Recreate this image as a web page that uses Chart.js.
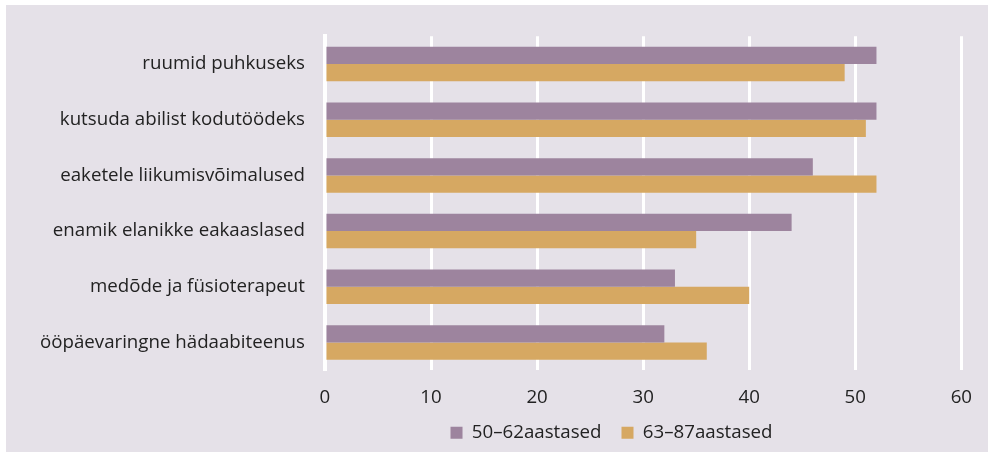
<!DOCTYPE html>
<html>
<head>
<meta charset="utf-8">
<script src="https://cdn.jsdelivr.net/npm/chart.js@4"></script>
<style>
  html, body { margin: 0; padding: 0; background: #fff; }
  #wrap { position: absolute; left: 6px; top: 5px; width: 982px; height: 447px; background: #e5e1e8; }
</style>
</head>
<body>
<div id="wrap"><canvas id="bar-chart"></canvas></div>
<script>
const categories = ['ruumid puhkuseks', 'kutsuda abilist kodutöödeks', 'eaketele liikumisvõimalused',
  'enamik elanikke eakaaslased', 'medõde ja füsioterapeut', 'ööpäevaringne hädaabiteenus'];
const age50to62 = [52, 52, 46, 44, 33, 32];
const age63to87 = [49, 51, 52, 35, 40, 36];
const seriesNames = ['50–62aastased', '63–87aastased'];
const xTicks = [0, 10, 20, 30, 40, 50, 60];

Chart.defaults.font.family = "'Open Sans', 'Noto Sans', sans-serif";
Chart.defaults.font.size = 18.7;
Chart.defaults.color = '#222';

const ctx = document.getElementById('bar-chart');

// legend sits a bit right of the canvas centre in the original
const shiftLegend = {
  id: 'shiftLegend',
  afterLayout(chart) {
    chart.legend.left += 113;
    chart.legend.right += 113;
  }
};

new Chart(ctx, {
  type: 'bar',
  data: {
    labels: categories,
    datasets: [{
      label: seriesNames[0],
      data: age50to62,
      backgroundColor: '#9d849e',
      barPercentage: 1,
      categoryPercentage: 0.62
    }, {
      label: seriesNames[1],
      data: age63to87,
      backgroundColor: '#d6a862',
      barPercentage: 1,
      categoryPercentage: 0.62
    }]
  },
  options: {
    indexAxis: 'y',
    responsive: true,
    maintainAspectRatio: false,
    animation: false,
    layout: { padding: { top: 21, right: 11, left: 14, bottom: 0 } },
    scales: {
      x: {
        min: 0,
        max: 60,
        afterBuildTicks: axis => { axis.ticks = xTicks.map(v => ({ value: v })); },
        afterFit: axis => { axis.height = 33; },
        grid: { color: '#ffffff', lineWidth: 3, drawTicks: false },
        border: { display: false },
        ticks: { padding: 16, color: '#222' }
      },
      y: {
        grid: { display: false, drawTicks: false },
        border: { display: true, color: '#ffffff', width: 4 },
        ticks: { padding: 20, color: '#222' }
      }
    },
    plugins: {
      legend: {
        position: 'bottom',
        labels: { boxWidth: 12, boxHeight: 12, padding: 20, color: '#222' }
      },
      tooltip: { enabled: false }
    }
  },
  plugins: [shiftLegend]
});
</script>
</body>
</html>
